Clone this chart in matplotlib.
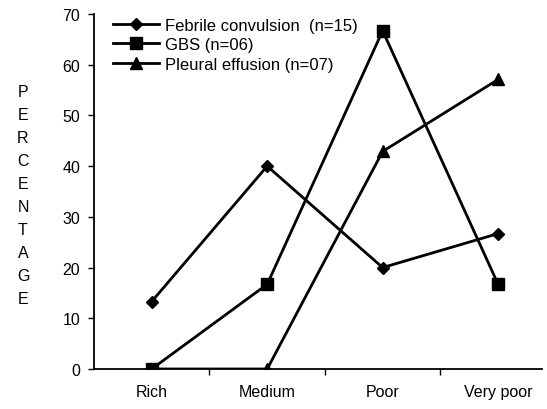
import matplotlib
matplotlib.use("Agg")
import matplotlib.pyplot as plt

plt.rcParams['font.family'] = ['Liberation Sans', 'DejaVu Sans']

categories = ["Rich", "Medium", "Poor", "Very poor"]
febrile = [13.3, 40.0, 20.0, 26.7]
gbs = [0.0, 16.7, 66.7, 16.7]
pleural = [0.0, 0.0, 42.9, 57.1]
series_labels = ["Febrile convulsion  (n=15)", "GBS (n=06)", "Pleural effusion (n=07)"]
y_ticks = [0, 10, 20, 30, 40, 50, 60, 70]

fig = plt.figure(figsize=(5.47, 4.10), dpi=100)
ax = fig.add_axes([0.1718, 0.0976, 0.8191, 0.8658])

x = list(range(len(categories)))
ax.plot(x, febrile, color="black", lw=2.0, marker="D", ms=6, label=series_labels[0])
ax.plot(x, gbs, color="black", lw=2.0, marker="s", ms=8, label=series_labels[1])
ax.plot(x, pleural, color="black", lw=2.0, marker="^", ms=8.5, label=series_labels[2])

ax.set_xlim(-0.5, 3.38)
ax.set_ylim(0, 70)
ax.set_yticks(y_ticks)
ax.set_xticks(x)
ax.set_xticklabels(categories)
ax.set_xticks([0.5, 1.5, 2.5], minor=True)
ax.tick_params(axis="x", which="major", length=0, pad=11, labelsize=11.5)
ax.tick_params(axis="x", which="minor", length=4, width=1, direction="out")
ax.tick_params(axis="y", length=4, width=1, direction="out", labelsize=11.5, pad=6)

for s in ("top", "right"):
    ax.spines[s].set_visible(False)
for s in ("left", "bottom"):
    ax.spines[s].set_linewidth(1.3)
ax.spines["bottom"].set_zorder(0)

# vertical stacked axis title
fig.text(23 / 547, 1 - 196 / 410, "\n".join("PERCENTAGE"), ha="center", va="center",
         fontsize=11.5, linespacing=1.66)

leg = ax.legend(loc="upper left", bbox_to_anchor=(0.042, 0.99), frameon=False,
                handlelength=2.8, handletextpad=0.35, labelspacing=0.28, fontsize=12,
                borderaxespad=0, borderpad=0)

fig.savefig("out.png", dpi=100)
